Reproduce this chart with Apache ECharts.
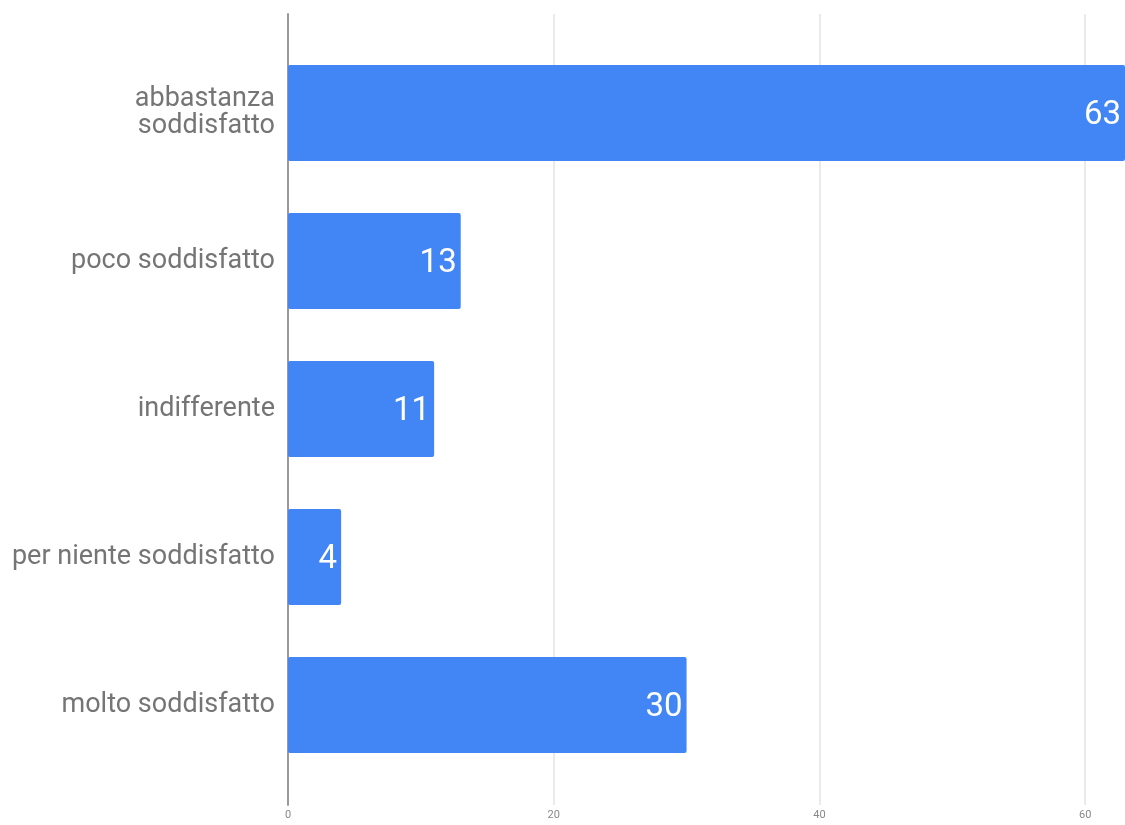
<!DOCTYPE html>
<html><head><meta charset="utf-8">
<script src="https://cdn.jsdelivr.net/npm/echarts@6/dist/echarts.min.js"></script>
<style>html,body{margin:0;padding:0;background:#fff}#c{width:1125px;height:825px}</style>
</head><body><div id="c"></div>
<script>
const categories = ['abbastanza\nsoddisfatto', 'poco soddisfatto', 'indifferente', 'per niente soddisfatto', 'molto soddisfatto'];
const values = [63, 13, 11, 4, 30];
const xMax = 63;
const xInterval = 20;

const chart = echarts.init(document.getElementById('c'));
chart.setOption({
  animation: false,
  textStyle: { fontFamily: 'Roboto' },
  grid: [
    { left: 288, right: 0, top: 39, bottom: 46 },
    { left: 288, right: 0, top: 14, bottom: 20 }
  ],
  xAxis: [
    { gridIndex: 0, type: 'value', min: 0, max: xMax, interval: xInterval, show: false },
    { gridIndex: 1, type: 'value', min: 0, max: xMax, interval: xInterval,
      axisLine: { show: false }, axisTick: { show: false },
      splitLine: { show: true, showMaxLine: false, lineStyle: { color: '#e3e3e3', width: 1.5 } },
      axisLabel: { color: '#888', fontSize: 11, margin: 5, fontFamily: 'Roboto', showMaxLabel: false } }
  ],
  yAxis: [
    { gridIndex: 0, type: 'category', data: categories, inverse: true,
      axisLine: { show: false }, axisTick: { show: false },
      axisLabel: { color: '#757575', fontSize: 27, lineHeight: 27, margin: 13, padding: [5, 0, 0, 0], fontFamily: 'Roboto' } },
    { gridIndex: 1, type: 'value', min: 0, max: 1, show: true,
      axisLine: { show: true, lineStyle: { color: '#999', width: 2 } },
      axisTick: { show: false }, axisLabel: { show: false }, splitLine: { show: false } }
  ],
  series: [{
    type: 'bar', xAxisIndex: 0, yAxisIndex: 0, data: values,
    barWidth: 96,
    itemStyle: { color: '#4285f4', borderRadius: 2 },
    label: { show: true, position: 'insideRight', distance: 4, offset: [0, 3], color: '#fff', fontSize: 33, fontFamily: 'Roboto' },
    z: 3
  }]
});
</script></body></html>
